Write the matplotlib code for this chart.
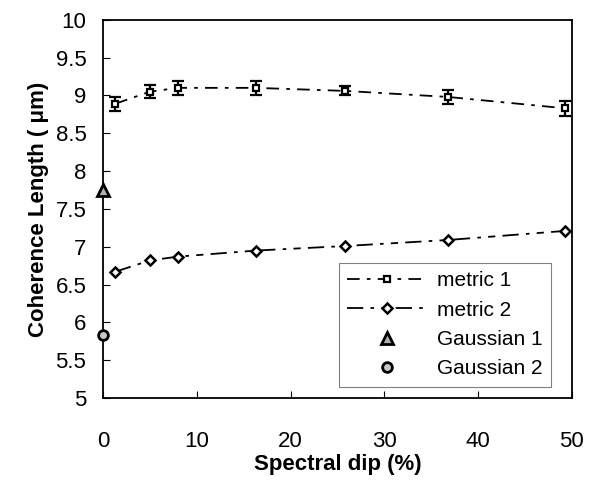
import matplotlib
matplotlib.use("Agg")
import matplotlib.pyplot as plt

plt.rcParams["font.family"] = ["Liberation Sans", "DejaVu Sans"]

# spectral dip (%) for the two metrics
DIP = [1.3, 5.0, 8.0, 16.3, 25.8, 36.8, 49.3]
METRIC1 = [8.89, 9.05, 9.10, 9.10, 9.06, 8.98, 8.83]
METRIC1_ERR = [0.09, 0.09, 0.09, 0.09, 0.06, 0.09, 0.10]
METRIC2 = [6.67, 6.82, 6.87, 6.95, 7.01, 7.09, 7.21]
GAUSS1_X, GAUSS1_Y = [0.0], [7.75]
GAUSS2_X, GAUSS2_Y = [0.0], [5.83]

fig = plt.figure(figsize=(5.89, 4.82), dpi=100)
ax = fig.add_axes([0.175, 0.174, 0.796, 0.785])

eb = ax.errorbar(DIP, METRIC1, yerr=METRIC1_ERR, color="black", lw=1.3,
                 dashes=(7, 4, 2, 4), marker="s", ms=4.5, mfc="white", mec="black",
                 mew=1.6, ecolor="black", elinewidth=1.6, capsize=4.5, capthick=1.8)
m1_line = eb[0]
m2_line, = ax.plot(DIP, METRIC2, color="black", lw=1.3, dashes=(9, 4, 2, 4, 4, 4),
                   marker="D", ms=5, mfc="white", mec="black", mew=1.8)
g1, = ax.plot(GAUSS1_X, GAUSS1_Y, ls="none", marker="^", ms=8, mfc="#b0b0b0",
              mec="black", mew=2, clip_on=False, zorder=5)
g2, = ax.plot(GAUSS2_X, GAUSS2_Y, ls="none", marker="o", ms=7, mfc="#c8c8c8",
              mec="black", mew=2, clip_on=False, zorder=5)

ax.set_xlim(0, 50)
ax.set_ylim(5, 10)
ax.set_xticks(range(0, 51, 10))
ax.set_yticks([5 + 0.5 * i for i in range(11)])
ax.set_yticklabels(["5", "5.5", "6", "6.5", "7", "7.5", "8", "8.5", "9", "9.5", "10"])
ax.tick_params(axis="both", direction="in", length=5, width=0.8, labelsize=16)
ax.tick_params(axis="x", pad=24)
ax.tick_params(axis="y", pad=12)
for side in ax.spines.values():
    side.set_linewidth(1.3)

ax.set_xlabel("Spectral dip (%)", fontsize=16, fontweight="bold", labelpad=1)
ax.set_ylabel("Coherence Length ( μm)", fontsize=16, fontweight="bold", labelpad=5)

leg = ax.legend([m1_line, m2_line, g1, g2],
                ["metric 1", "metric 2", "Gaussian 1", "Gaussian 2"],
                loc="lower right", bbox_to_anchor=(0.955, 0.03), fontsize=15,
                frameon=True, fancybox=False, handlelength=3.8, handletextpad=0.5,
                labelspacing=0.5, borderpad=0.4, borderaxespad=0)
leg.get_frame().set_edgecolor("#606060")
leg.get_frame().set_linewidth(0.8)

fig.savefig("out.png", dpi=100)
